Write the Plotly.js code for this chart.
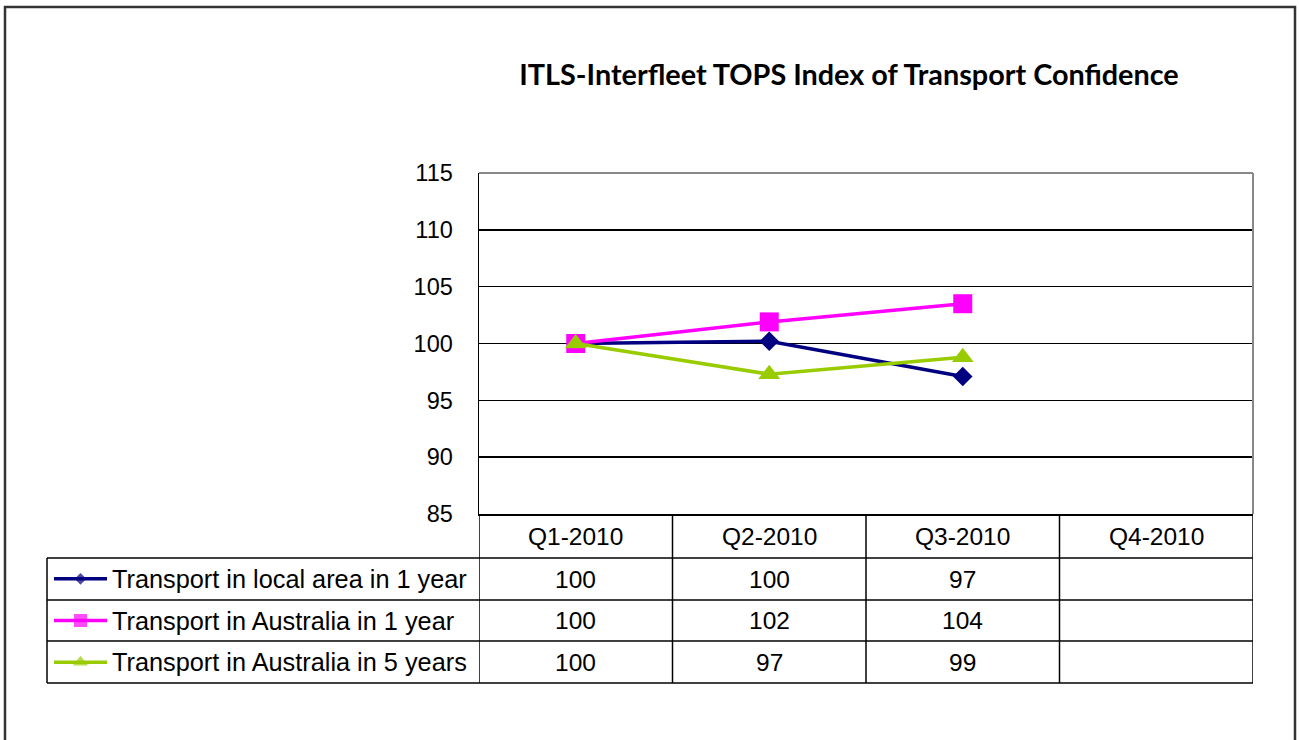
<!DOCTYPE html>
<html>
<head>
<meta charset="utf-8">
<script src="https://cdn.plot.ly/plotly-3.0.1.min.js"></script>
<style>html,body{margin:0;padding:0;background:#fff;}#chart{width:1299px;height:740px;}</style>
</head>
<body>
<div id="chart"></div>
<script>
// ---- data ----
const categories = ['Q1-2010', 'Q2-2010', 'Q3-2010', 'Q4-2010'];
const seriesNames = ['Transport in local area in 1 year', 'Transport in Australia in 1 year', 'Transport in Australia in 5 years'];
const localArea1yr = [100, 100.2, 97.1, null];
const australia1yr = [100, 101.9, 103.5, null];
const australia5yr = [100, 97.3, 98.8, null];
const yTickVals = [85, 90, 95, 100, 105, 110, 115];
const titleText = 'ITLS-Interfleet TOPS Index of Transport Confidence';

// ---- styling / layout geometry ----
const seriesValues = [localArea1yr, australia1yr, australia5yr];
const colors = ['#000080', '#FF00FF', '#99CC00'];
const symbols = ['diamond', 'square', 'triangle-up'];
const mainSizes = [15, 19, 19];
const legSizes = [9, 13, 13];

const W = 1299, H = 740;
const L = 479, R = 1253, T = 173, B = 514;
const tableLeft = 47;
const rowLines = [558, 600, 641, 683];
const px = x => x / W;
const py = y => 1 - y / H;
const font = 'Liberation Sans, Arial, sans-serif';
const tblSize = 24.5;
const nameSize = 25.3;

const traces = [];
seriesValues.forEach((vals, i) => {
  traces.push({
    type: 'scatter', mode: 'lines+markers', name: seriesNames[i],
    x: categories, y: vals, connectgaps: false,
    line: {color: colors[i], width: 3.5},
    marker: {symbol: symbols[i], size: mainSizes[i], color: colors[i], line: {width: 0}},
    showlegend: false, hoverinfo: 'x+y+name', cliponaxis: false
  });
  // legend key sample in the data table
  traces.push({
    type: 'scatter', mode: 'lines+markers', xaxis: 'x2', yaxis: 'y2',
    x: [0, 0.5, 1], y: [i, i, i],
    line: {color: colors[i], width: 3.5},
    marker: {symbol: symbols[i], size: [0, legSizes[i], 0], color: colors[i], line: {width: 0}},
    showlegend: false, hoverinfo: 'skip', cliponaxis: false
  });
});

const shapes = [];
const blk = {color: '#000', width: 1.5};
// outer chart border
shapes.push({type: 'rect', xref: 'paper', yref: 'paper', x0: px(5), x1: px(1295), y0: py(7), y1: -0.2,
  line: {color: '#333', width: 2.5}, layer: 'above'});
// plot area top & right (gray)
shapes.push({type: 'line', xref: 'paper', yref: 'paper', x0: px(L), x1: px(R), y0: py(T), y1: py(T), line: {color: '#888', width: 2}});
shapes.push({type: 'line', xref: 'paper', yref: 'paper', x0: px(R), x1: px(R), y0: py(T), y1: py(B), line: {color: '#888', width: 2}});
// table horizontal lines
rowLines.forEach(y => {
  shapes.push({type: 'line', xref: 'paper', yref: 'paper', x0: px(tableLeft), x1: px(R), y0: py(y), y1: py(y), line: blk});
});
// table left border
shapes.push({type: 'line', xref: 'paper', yref: 'paper', x0: px(tableLeft), x1: px(tableLeft), y0: py(rowLines[0]), y1: py(rowLines[3]), line: blk});
// category boundaries
for (let k = 0; k <= categories.length; k++) {
  shapes.push({type: 'line', xref: 'x', yref: 'paper', x0: k - 0.5, x1: k - 0.5, y0: py(B), y1: py(rowLines[3]), line: blk});
}

const annotations = [];
categories.forEach((c, i) => {
  annotations.push({xref: 'x', yref: 'paper', x: i, y: py((B + rowLines[0]) / 2), text: c, showarrow: false,
    xanchor: 'center', yanchor: 'middle', font: {family: font, size: tblSize, color: '#000'}});
});
seriesValues.forEach((vals, r) => {
  const yc = py((rowLines[r] + rowLines[r + 1]) / 2);
  annotations.push({xref: 'paper', yref: 'paper', x: px(110), y: yc, text: seriesNames[r], showarrow: false,
    xanchor: 'left', yanchor: 'middle', font: {family: font, size: nameSize, color: '#000'}});
  vals.forEach((v, i) => {
    if (v === null) return;
    annotations.push({xref: 'x', yref: 'paper', x: i, y: yc, text: String(Math.round(v)), showarrow: false,
      xanchor: 'center', yanchor: 'middle', font: {family: font, size: tblSize, color: '#000'}});
  });
});

const layout = {
  width: W, height: H,
  margin: {l: 0, r: 0, t: 0, b: 0},
  paper_bgcolor: '#fff', plot_bgcolor: '#fff',
  title: {text: '<b>' + titleText + '</b>', x: 849 / W, xanchor: 'center', y: py(75), yanchor: 'middle',
    font: {family: 'Lato, Liberation Sans, sans-serif', size: 28.8, color: '#000'}},
  xaxis: {domain: [px(L), px(R)], range: [-0.5, 3.5], type: 'category', showticklabels: false, ticks: '',
    showgrid: false, zeroline: false, showline: true, linecolor: '#000', linewidth: 1.5, fixedrange: true},
  yaxis: {domain: [py(B), py(T)], range: [85, 115], tickvals: yTickVals, ticks: '', ticklabelstandoff: 20,
    showgrid: true, gridcolor: '#000', gridwidth: 1.5, zeroline: false, showline: true, linecolor: '#000', linewidth: 1.5,
    tickfont: {family: font, size: 23.5, color: '#000'}, fixedrange: true},
  xaxis2: {domain: [px(54), px(107)], range: [0, 1], anchor: 'y2', visible: false, fixedrange: true},
  yaxis2: {domain: [py(rowLines[3]), py(rowLines[0])], range: [2.5, -0.5], anchor: 'x2', visible: false, fixedrange: true},
  shapes: shapes,
  annotations: annotations,
  showlegend: false
};

Plotly.newPlot('chart', traces, layout, {displayModeBar: false, staticPlot: true});
</script>
</body>
</html>
